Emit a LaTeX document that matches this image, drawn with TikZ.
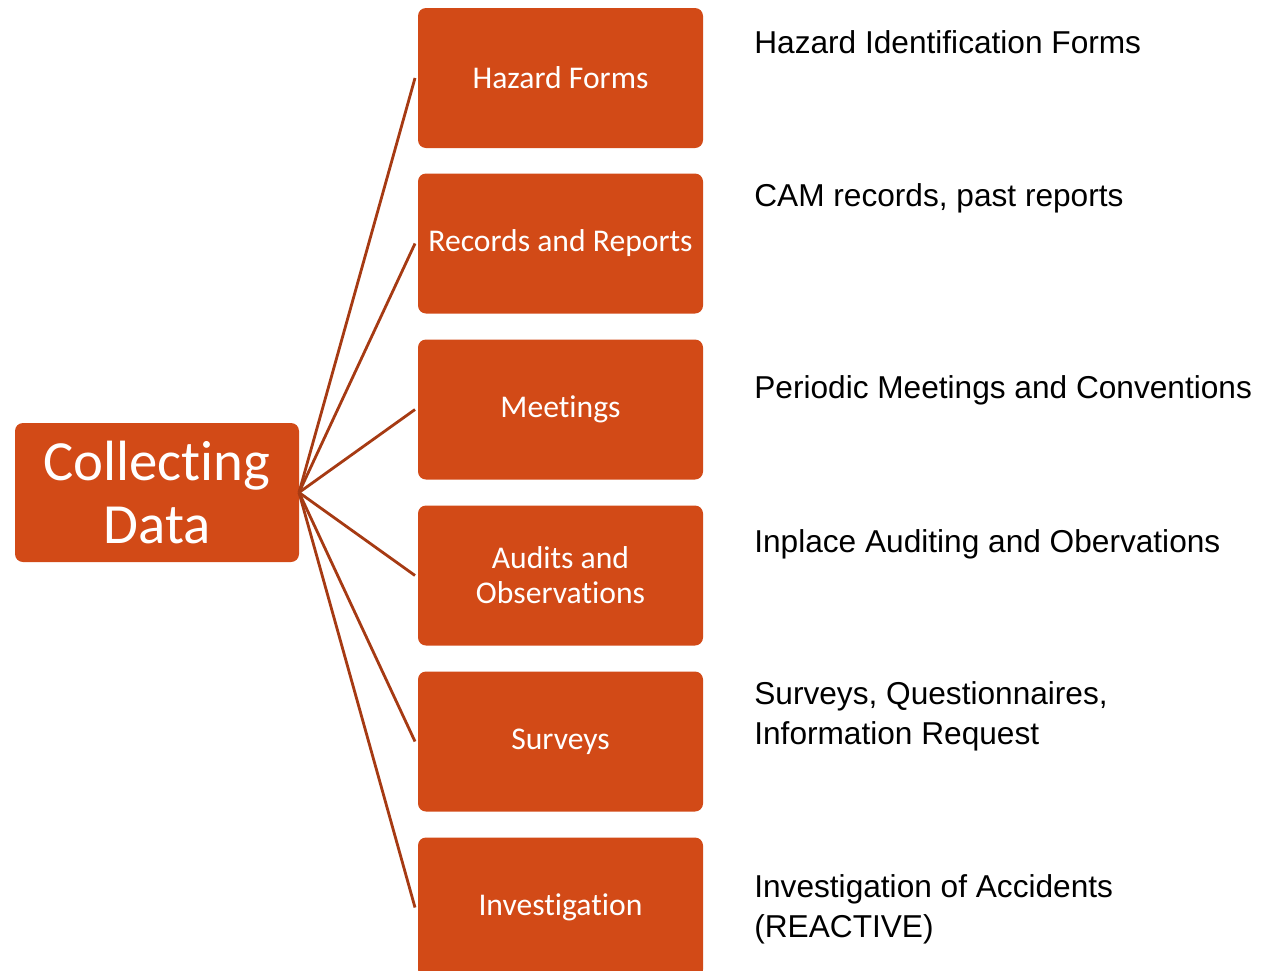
\documentclass[tikz,border=0pt]{standalone}
\usepackage{fontspec}
\setmainfont{Liberation Sans}
\newfontfamily\boxfont[RawFeature={-liga;-clig;-dlig}]{Carlito}
\definecolor{rust}{RGB}{210,74,23}
\definecolor{rustline}{RGB}{166,58,19}
\tikzset{
	item/.style={fill=rust,rounded corners=0.16cm,minimum width=5.7cm,minimum height=2.8cm,
		inner sep=0pt,outer sep=0pt,text=white,align=center,
		font=\boxfont\fontsize{18}{19.8}\selectfont},
	note/.style={anchor=north west,inner sep=0pt,align=left,
		font=\fontsize{18}{22.7}\selectfont}
}
\def\conn#1{\draw[color=rustline,line width=1.6pt] (hub.east) -- ([xshift=-1.7pt]#1.west);}

\begin{document}
\begin{tikzpicture}
	\useasboundingbox (0,0) rectangle (25.3,-19.42);

	\node[item,minimum width=5.68cm,minimum height=2.78cm,
		font=\boxfont\fontsize{32.3}{35.7}\selectfont] (hub) at (3.14,-9.85) {Collecting\\Data};

	\node[item] (forms) at (11.21,-1.56) {Hazard Forms};
	\node[item] (records) at (11.21,-4.87) {Records and Reports};
	\node[item] (meet) at (11.21,-8.19) {Meetings};
	\node[item] (audit) at (11.21,-11.51) {Audits and\\Observations};
	\node[item] (survey) at (11.21,-14.83) {Surveys};
	\node[item] (invest) at (11.21,-18.15) {Investigation};

	\conn{forms}
	\conn{records}
	\conn{meet}
	\conn{audit}
	\conn{survey}
	\conn{invest}

	\node[note] (nforms) at (15.08,-0.60) {Hazard Identification Forms};
	\node[note] (nrecords) at (15.08,-3.66) {CAM records, past reports};
	\node[note] (nmeet) at (15.08,-7.50) {Periodic Meetings and Conventions};
	\node[note] (naudit) at (15.08,-10.58) {Inplace Auditing and Obervations};
	\node[note] (nsurvey) at (15.08,-13.62) {Surveys, Questionnaires,\\Information Request};
	\node[note] (ninvest) at (15.08,-17.48) {Investigation of Accidents\\(REACTIVE)};
\end{tikzpicture}
\end{document}
